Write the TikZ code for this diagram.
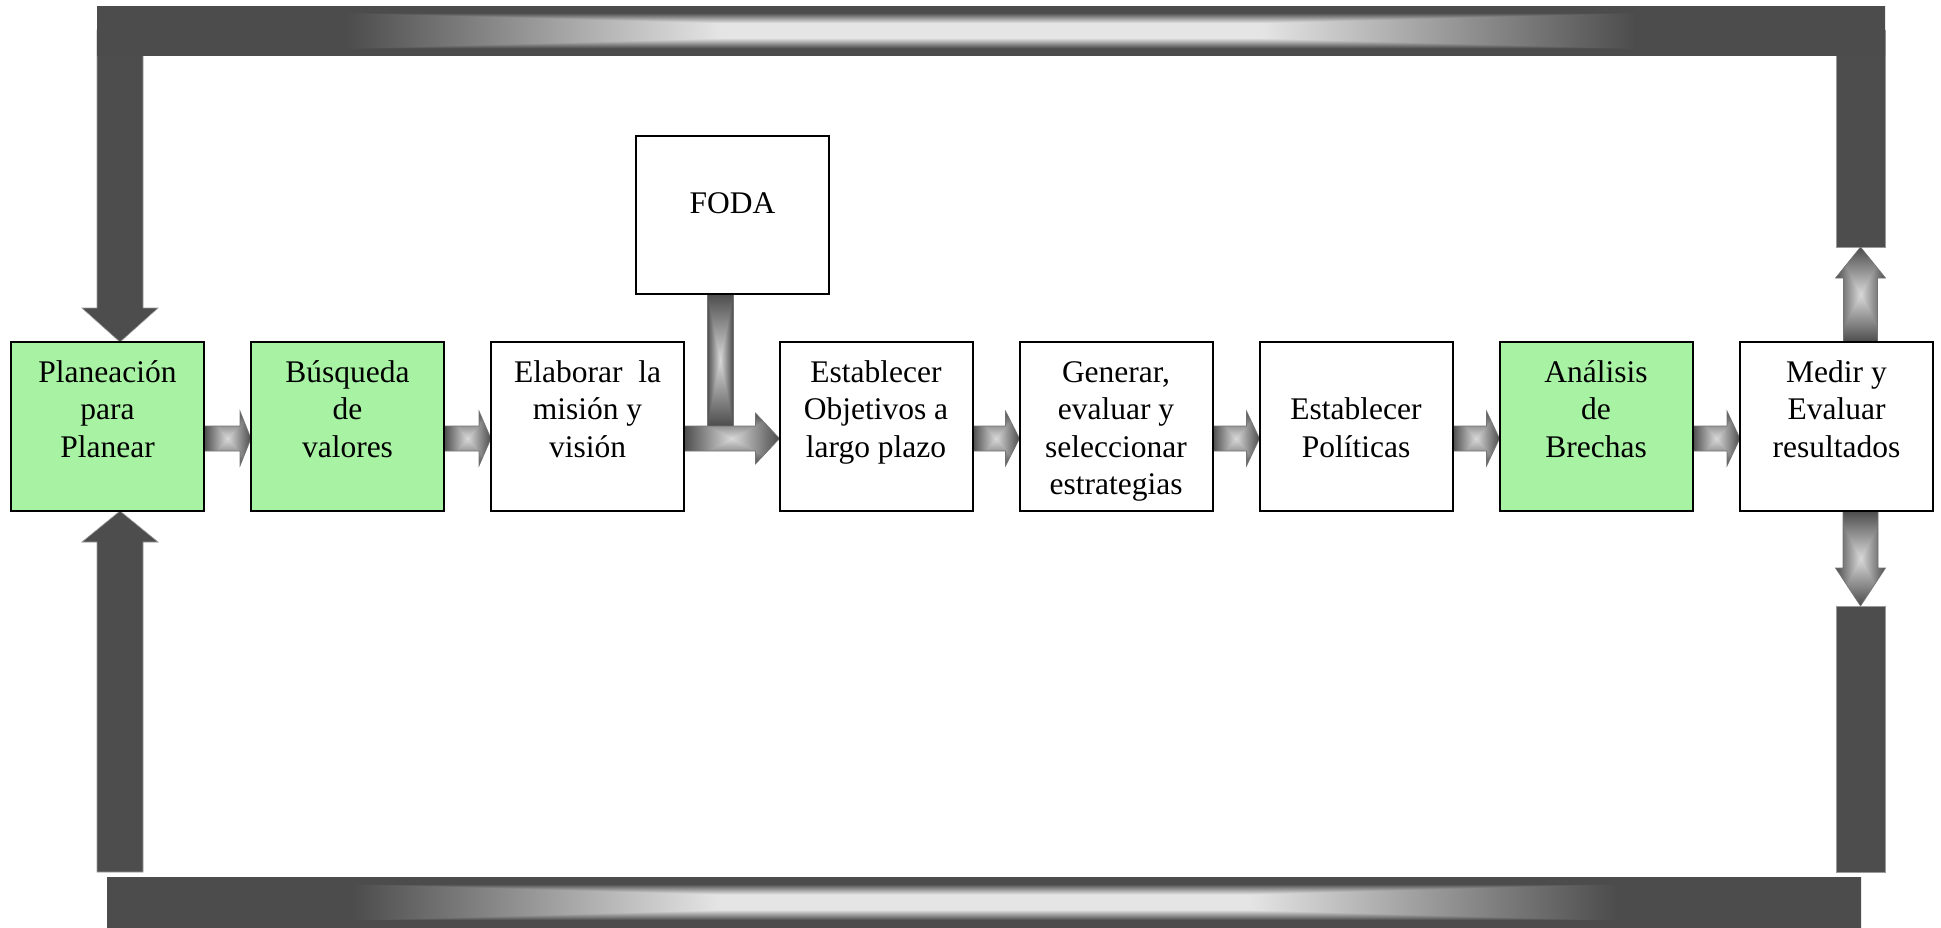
\documentclass[tikz,border=0pt]{standalone}
\usepackage{fontspec}
\setmainfont{Liberation Serif}
\usetikzlibrary{calc,backgrounds}

\definecolor{verdeclaro}{RGB}{168,242,163}
\definecolor{oscuro}{RGB}{77,77,77}

% Rectangular "path" gradient: light centre, dark rim (bars of the frame)
\pgfdeclarefunctionalshading{barshade}{\pgfpoint{-50bp}{-50bp}}{\pgfpoint{50bp}{50bp}}{}{
  abs exch abs 2 copy sub abs add add 2 div
  25 div 0.3 sub 0.42 div
  dup abs add 2 div
  dup 1 sub abs neg add 1 add 2 div
  0.6 mul 0.9 exch sub dup dup
}
% Same idea for the small block arrows
\pgfdeclarefunctionalshading{arrowshade}{\pgfpoint{-50bp}{-50bp}}{\pgfpoint{50bp}{50bp}}{}{
  abs exch abs 2 copy sub abs add add 2 div
  25 div
  dup 1 sub abs neg add 1 add 2 div
  0.55 mul 0.85 exch sub dup dup
}

% text block of a step box, top aligned
\newcommand{\textocaja}[3][84.5pt]{\begin{minipage}[c][#1][t]{96.5pt}\centering\rule{0pt}{#2}#3\end{minipage}}

% horizontal block arrow between two boxes: from, to, head length, head half height
\newcommand{\flechah}[4]{%
  \shade[flecha] ($(#1.east)+(0,-0.5)$) -- ($(#2.west)+(-#3,-0.5)$)
    -- ($(#2.west)+(-#3,12-#4)$) -- ($(#2.west)+(0,12)$)
    -- ($(#2.west)+(-#3,12+#4)$) -- ($(#2.west)+(-#3,24.5)$)
    -- ($(#1.east)+(0,24.5)$) -- cycle;}

\begin{document}
\begin{tikzpicture}[x=0.5pt,y=-0.5pt,
  font=\fontsize{15.75pt}{18.75pt}\selectfont,
  caja/.style={draw=black, line width=1pt, fill=white, inner sep=0pt, outer sep=0pt},
  verde/.style={caja, fill=verdeclaro},
  flecha/.style={shading=arrowshade, draw=black!55, line width=0.3pt},
  gruesa/.style={fill=oscuro, draw=black!40, line width=0.3pt},
  barra/.style={shading=barshade}]

\useasboundingbox (0,0) rectangle (1941,927);

% process steps
\node[verde] (b1) at (107.5,426.5) {\textocaja{20pt}{Planeación\\para\\Planear}};
\node[verde] (b2) at (347.5,426.5) {\textocaja{20pt}{Búsqueda\\de\\valores}};
\node[caja]  (b3) at (587.5,426.5) {\textocaja{20pt}{Elaborar~~la\\misión y\\visión}};
\node[caja]  (b4) at (876,426.5)   {\textocaja{20pt}{Establecer\\Objetivos a\\largo plazo}};
\node[caja]  (b5) at (1116,426.5)  {\textocaja{20pt}{Generar,\\evaluar y\\seleccionar\\estrategias}};
\node[caja]  (b6) at (1356,426.5)  {\textocaja{38.75pt}{Establecer\\Políticas}};
\node[verde] (b7) at (1596,426.5)  {\textocaja{20pt}{Análisis\\de\\Brechas}};
\node[caja]  (b8) at (1836.5,426.5){\textocaja{20pt}{Medir y\\Evaluar\\resultados}};
\node[caja]  (foda) at (732.5,215) {\textocaja[79pt]{38.75pt}{FODA}};

% ends of the feedback frame
\coordinate (la) at (120,30);
\coordinate (lb) at (120,872);
\coordinate (ra) at (1860.5,247);
\coordinate (rb) at (1860.5,606);
\coordinate (ua) at (ra |- b8.north);
\coordinate (ub) at (rb |- b8.south);
\coordinate (t1) at ($(b1.north)+(12.5,0)$);
\coordinate (t2) at ($(b1.south)+(12.5,0)$);

\begin{pgfonlayer}{background}
  % dark frame arrows on the left
  \fill[gruesa] ($(la)+(-23,0)$) -- ($(t1)+(-23,-34)$) -- ($(t1)+(-38,-34)$) -- (t1)
     -- ($(t1)+(38,-34)$) -- ($(t1)+(23,-34)$) -- ($(la)+(23,0)$) -- cycle;
  \fill[gruesa] ($(lb)+(-23,0)$) -- ($(t2)+(-23,31)$) -- ($(t2)+(-38,31)$) -- (t2)
     -- ($(t2)+(38,31)$) -- ($(t2)+(23,31)$) -- ($(lb)+(23,0)$) -- cycle;
  % dark frame bars on the right
  \fill[gruesa] ($(ra)+(-24.5,0)$) rectangle (1885,30);
  \fill[gruesa] ($(rb)+(-24.5,0)$) rectangle ($(lb -| ra)+(24.5,0)$);

  % shaded top and bottom bars
  \shade[barra] (97,6) rectangle (1885,55);
  \shade[barra] (107,877) rectangle (1861,927);

  % arrows leaving the last step
  \shade[flecha] ($(ua)+(-17,0)$) -- ($(ra)+(-17,31)$) -- ($(ra)+(-25,31)$) -- (ra)
     -- ($(ra)+(25,31)$) -- ($(ra)+(17,31)$) -- ($(ua)+(17,0)$) -- cycle;
  \shade[flecha] ($(ub)+(-17.5,0)$) -- ($(rb)+(-17.5,-38)$) -- ($(rb)+(-25,-38)$) -- (rb)
     -- ($(rb)+(25,-38)$) -- ($(rb)+(17.5,-38)$) -- ($(ub)+(17.5,0)$) -- cycle;

  % FODA feeds into the arrow towards the objectives
  \shade[flecha] ($(foda.south)+(-25.5,0)$) rectangle ($(foda.south)+(0.5,132)$);

  % chain of steps
  \flechah{b1}{b2}{11}{27.5}
  \flechah{b2}{b3}{12}{27.5}
  \flechah{b3}{b4}{24}{25.5}
  \flechah{b4}{b5}{14}{27.5}
  \flechah{b5}{b6}{13}{27.5}
  \flechah{b6}{b7}{13}{27.5}
  \flechah{b7}{b8}{13}{27.5}
\end{pgfonlayer}
\end{tikzpicture}
\end{document}
